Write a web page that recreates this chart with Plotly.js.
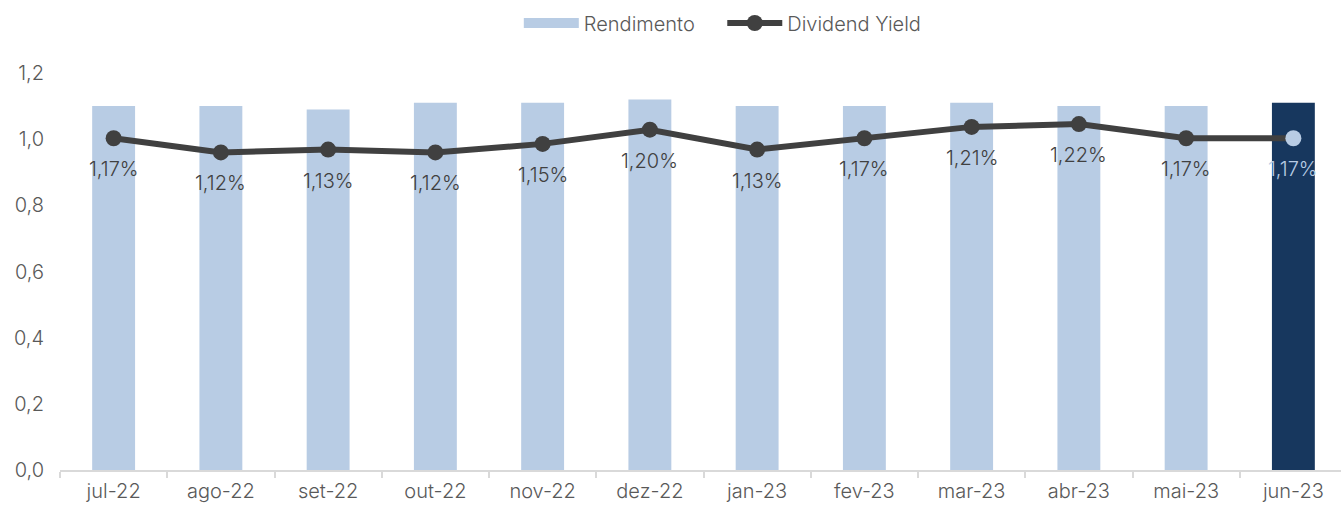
<!DOCTYPE html>
<html>
<head>
<meta charset="utf-8">
<script src="https://cdn.plot.ly/plotly-3.0.1.min.js"></script>
<style>html,body{margin:0;padding:0;overflow:hidden;background:#fff;}#chart{width:1347px;height:506px;}</style>
</head>
<body>
<div id="chart"></div>
<script>
const categories = ["jul-22","ago-22","set-22","out-22","nov-22","dez-22","jan-23","fev-23","mar-23","abr-23","mai-23","jun-23"];
const rendimento = [1.10,1.10,1.09,1.11,1.11,1.12,1.10,1.10,1.11,1.10,1.10,1.11];
const dividendYield = [1.17,1.12,1.13,1.12,1.15,1.20,1.13,1.17,1.21,1.22,1.17,1.17];
const yieldLabels = ["1,17%","1,12%","1,13%","1,12%","1,15%","1,20%","1,13%","1,17%","1,21%","1,22%","1,17%","1,17%"];

const light = "#b8cce4", dark = "#17375e", lineC = "#404040";
const barColors = categories.map((c,i)=> i===categories.length-1 ? dark : light);
const markerColors = categories.map((c,i)=> i===categories.length-1 ? light : lineC);

const fontFam = "Inter, 'Noto Sans', sans-serif";
const fs = 20;

const traces = [
  {type:"bar", name:"Rendimento", x:categories, y:rendimento, width:0.4,
   marker:{color:barColors}, hoverinfo:"skip", showlegend:false},
  {type:"scatter", mode:"lines", name:"Rendimento&nbsp;&nbsp;&nbsp;&nbsp;", x:[null], y:[null],
   line:{color:light, width:14}, showlegend:true, hoverinfo:"skip"},
  {type:"scatter", mode:"lines+markers", name:"Dividend Yield", x:categories, y:dividendYield, yaxis:"y2",
   line:{color:lineC, width:6}, marker:{color:markerColors, size:16}, hoverinfo:"skip"}
];

const annotations = categories.map((c,i)=>({
  x:c, y:dividendYield[i], xref:"x", yref:"y2", text:yieldLabels[i], showarrow:false,
  yshift:-31, font:{size:fs, color: i===categories.length-1 ? light : "#404040", family:fontFam, weight:300}
}));

const layout = {
  width:1347, height:506,
  margin:{l:60, r:0, t:73, b:36},
  paper_bgcolor:"#fff", plot_bgcolor:"#fff",
  font:{family:fontFam, size:fs, color:"#595959", weight:300},
  separators:",.",
  showlegend:true,
  legend:{orientation:"h", x:0.515, xanchor:"center", y:1-23/506, yanchor:"middle", yref:"container",
          font:{size:fs, color:"#595959", family:fontFam, weight:300}, traceorder:"normal", itemwidth:55},
  xaxis:{type:"category", range:[-0.5,11.5], showline:true, linecolor:"#d9d9d9", linewidth:2,
         ticks:"outside", tickson:"boundaries", ticklen:6, tickcolor:"#d9d9d9", tickwidth:2,
         showgrid:false, zeroline:false, tickfont:{size:fs, color:"#595959"}, ticklabelstandoff:2},
  yaxis:{range:[0,1.2], dtick:0.2, tickformat:".1f", showgrid:false, zeroline:false, showline:false,
         ticks:"", tickfont:{size:fs, color:"#595959"}, ticklabelstandoff:15},
  yaxis2:{range:[0,1.4], overlaying:"y", side:"right", visible:false, showgrid:false, zeroline:false},
  annotations:annotations
};

Plotly.newPlot("chart", traces, layout, {displayModeBar:false, staticPlot:true});
</script>
</body>
</html>
